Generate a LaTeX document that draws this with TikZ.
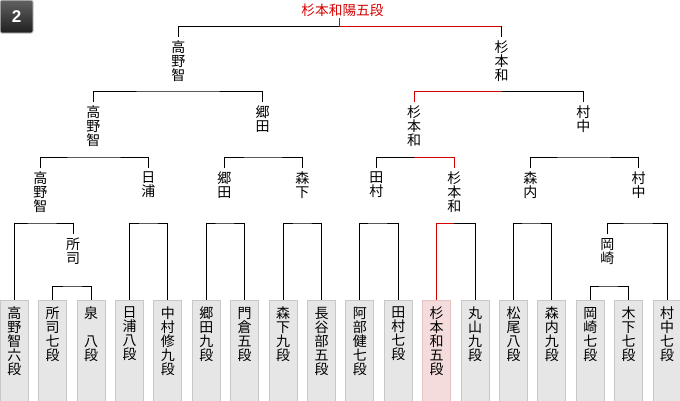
\documentclass[tikz,border=0pt]{standalone}
\usepackage{fontspec}
\setmainfont{Liberation Sans}
\newfontfamily\jp{Noto Sans CJK JP}
\usetikzlibrary{positioning}
\definecolor{winred}{HTML}{D40000}
\definecolor{boxfill}{HTML}{E6E6E6}
\definecolor{boxline}{HTML}{C8C8C8}
\definecolor{hlfill}{HTML}{F5DCDC}
\definecolor{hlline}{HTML}{E6C3C3}
\begin{document}
\begin{tikzpicture}[x=1pt, y=-1pt, line width=1pt,
    wname/.style={font=\jp\fontsize{14}{14}\selectfont, align=center, anchor=north, inner xsep=0pt, inner ysep=3.5pt},
    pbox/.style={draw=boxline, fill=boxfill, anchor=north, minimum width=28pt, minimum height=104pt, inner sep=0pt},
    hlbox/.style={pbox, draw=hlline, fill=hlfill},
    ptext/.style={font=\jp\fontsize{14}{14}\selectfont, align=center, inner sep=0pt},
    badge/.style={minimum size=33pt, inner sep=0pt, rounded corners=1.5pt, top color=black!62, bottom color=black!88, draw=black!22, text=white, font=\bfseries\fontsize{17}{17}\selectfont}]
  \useasboundingbox (0,0) rectangle (680,400);
  \clip (0,0) rectangle (680,400);
  \coordinate (lvF) at (0,26);
  \coordinate (lv3) at (0,91);
  \coordinate (lv2) at (0,157);
  \coordinate (lv1) at (0,223);
  \coordinate (lv0) at (0,286);
  \node[badge] (num) at (16.5,16.5) {2};
  \foreach \n/\st [count=\i from 0] in {高\\野\\智\\六\\段/pbox, 所\\司\\七\\段/pbox, 泉\\[14pt]八\\段/pbox,
      日\\浦\\八\\段/pbox, 中\\村\\修\\九\\段/pbox, 郷\\田\\九\\段/pbox, 門\\倉\\五\\段/pbox,
      森\\下\\九\\段/pbox, 長\\谷\\部\\五\\段/pbox, 阿\\部\\健\\七\\段/pbox, 田\\村\\七\\段/pbox,
      杉\\本\\和\\五\\段/hlbox, 丸\\山\\九\\段/pbox, 松\\尾\\八\\段/pbox, 森\\内\\九\\段/pbox,
      岡\\崎\\七\\段/pbox, 木\\下\\七\\段/pbox, 村\\中\\七\\段/pbox}{
    \pgfmathsetmacro\x{14.3+38.4*\i}
    \node[\st] (p\i) at (\x,300) {};
    \node[ptext, below=6.5pt of p\i.north] (n\i) {\n};
  }
  \node[wname] (s1) at (73,234) {所\\司};
  \node[wname] (s2) at (607.3,234) {岡\\崎};
  \node[wname] (r1a) at (40.3,168) {高\\野\\智};
  \node[wname] (r1b) at (148.3,168) {日\\浦};
  \node[wname] (r1c) at (224.3,168) {郷\\田};
  \node[wname] (r1d) at (302.3,168) {森\\下};
  \node[wname] (r1e) at (376.3,168) {田\\村};
  \node[wname] (r1f) at (454.3,168) {杉\\本\\和};
  \node[wname] (r1g) at (530.3,168) {森\\内};
  \node[wname] (r1h) at (638.7,168) {村\\中};
  \node[wname] (r2a) at (93.3,102) {高\\野\\智};
  \node[wname] (r2b) at (262.7,102) {郷\\田};
  \node[wname] (r2c) at (414,102) {杉\\本\\和};
  \node[wname] (r2d) at (583.3,102) {村\\中};
  \node[wname] (r3a) at (178.3,37) {高\\野\\智};
  \node[wname] (r3b) at (501.5,37) {杉\\本\\和};
  \node[font=\jp\fontsize{13.7}{14}\selectfont, text=winred, inner sep=1.5pt] (champ) at (342.5,10) {杉本和陽五段};
  \coordinate[xshift=-3.2pt] (cs) at (champ.south);
  \draw (p1.north) |- (s1 |- lv0) -| (p2.north);
  \draw (p15.north) |- (s2 |- lv0) -| (p16.north);
  \draw (p0.north) |- (r1a |- lv1) -| (s1.north);
  \draw (p3.north) |- (r1b |- lv1) -| (p4.north);
  \draw (p5.north) |- (r1c |- lv1) -| (p6.north);
  \draw (p7.north) |- (r1d |- lv1) -| (p8.north);
  \draw (p9.north) |- (r1e |- lv1) -| (p10.north);
  \draw[winred] (p11.north) |- (r1f |- lv1);
  \draw (r1f |- lv1) -| (p12.north);
  \draw (p13.north) |- (r1g |- lv1) -| (p14.north);
  \draw (s2.north) |- (r1h |- lv1) -| (p17.north);
  \draw (r1a.north) |- (r2a |- lv2) -| (r1b.north);
  \draw (r1c.north) |- (r2b |- lv2) -| (r1d.north);
  \draw (r1e.north) |- (r2c |- lv2);
  \draw[winred] (r1f.north) |- (r2c |- lv2);
  \draw (r1g.north) |- (r2d |- lv2) -| (r1h.north);
  \draw (r2a.north) |- (r3a |- lv3) -| (r2b.north);
  \draw[winred] (r2c.north) |- (r3b |- lv3);
  \draw (r3b |- lv3) -| (r2d.north);
  \draw (r3a.north) |- (cs |- lvF);
  \draw[winred] (cs) |- (r3b |- lvF);
  \draw (r3b |- lvF) -- (r3b.north);
\end{tikzpicture}
\end{document}
